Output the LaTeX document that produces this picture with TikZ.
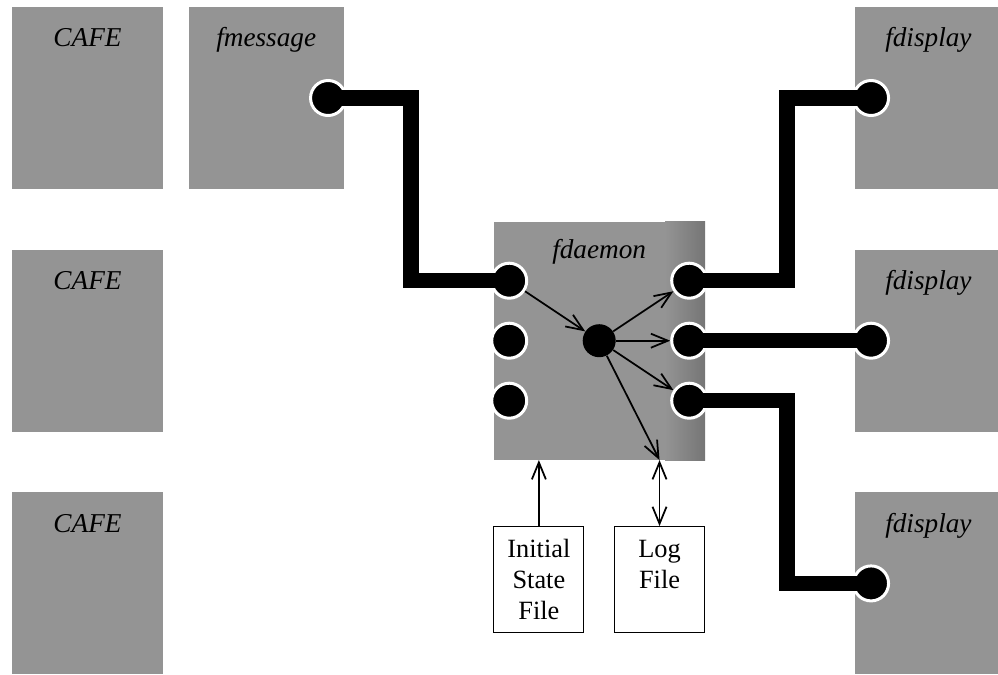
\documentclass[tikz,border=0pt]{standalone}
\usepackage{fontspec}
\setmainfont{Liberation Serif}
\usepackage{tikz}
\usetikzlibrary{arrows.meta, positioning, calc}

\begin{document}
\begin{tikzpicture}[
  proc/.style = {fill=black!42, minimum width=3.02cm, minimum height=3.64cm, inner sep=0pt},
  title/.style = {font=\fontsize{15.5}{18}\selectfont\itshape, inner sep=0pt},
  port/.style = {circle, fill=black, draw=white, line width=0.06cm, minimum size=0.7cm, inner sep=0pt},
  hub/.style = {circle, fill=black, minimum size=0.66cm, inner sep=0pt},
  wire/.style = {line width=0.31cm, line join=miter},
  flow/.style = {line width=1pt, >={Straight Barb[length=3.4mm, width=2.8mm]}, ->},
  file/.style = {draw, line width=0.6pt, fill=white, minimum width=1.8cm, minimum height=2.12cm, align=center, font=\fontsize{15}{17.6}\selectfont}
  ]

\useasboundingbox (0,0) rectangle (19.96,-13.5);

% Left column
\node[proc] (cafe1) at (1.75,-1.96) {};
\node[proc, below=1.2cm of cafe1] (cafe2) {};
\node[proc, below=1.2cm of cafe2] (cafe3) {};
\node[proc, minimum width=3.1cm, right=0.5cm of cafe1] (fmsg) {};

% Daemon
\node[proc, minimum width=4.22cm, minimum height=4.76cm, right=6.6cm of cafe2] (daemon) {};
\shade[left color=black!42, right color=black!54] ([xshift=-0.8cm]daemon.north east) rectangle (daemon.south east);

% Right column
\node[proc, minimum width=2.92cm, right=3cm of daemon] (disp2) {};
\node[proc, minimum width=2.92cm, above=1.2cm of disp2] (disp1) {};
\node[proc, minimum width=2.92cm, below=1.2cm of disp2] (disp3) {};

% Titles
\node[title, anchor=base] (cafe1-t) at ([yshift=-0.8cm]cafe1.north) {CAFE};
\node[title, anchor=base] (cafe2-t) at ([yshift=-0.8cm]cafe2.north) {CAFE};
\node[title, anchor=base] (cafe3-t) at ([yshift=-0.8cm]cafe3.north) {CAFE};
\node[title, anchor=base] (fmsg-t) at ([yshift=-0.8cm]fmsg.north) {fmessage};
\node[title, anchor=base] (daemon-t) at ([yshift=-0.74cm]daemon.north) {fdaemon};
\node[title, anchor=base] (disp1-t) at ([yshift=-0.8cm]disp1.north) {fdisplay};
\node[title, anchor=base] (disp2-t) at ([yshift=-0.8cm]disp2.north) {fdisplay};
\node[title, anchor=base] (disp3-t) at ([yshift=-0.8cm]disp3.north) {fdisplay};

% Ports
\node[port] (mport) at ([xshift=-0.32cm]fmsg.east) {};
\node[port] (in1) at ([shift={(-1.8cm,1.2cm)}]daemon.center) {};
\node[port] (in2) at ([xshift=-1.8cm]daemon.center) {};
\node[port] (in3) at ([shift={(-1.8cm,-1.2cm)}]daemon.center) {};
\node[port] (out1) at ([shift={(1.8cm,1.2cm)}]daemon.center) {};
\node[port] (out2) at ([xshift=1.8cm]daemon.center) {};
\node[port] (out3) at ([shift={(1.8cm,-1.2cm)}]daemon.center) {};
\node[hub] (hub) at (daemon.center) {};
\node[port] (dport1) at ([xshift=0.32cm]disp1.west) {};
\node[port] (dport2) at ([xshift=0.32cm]disp2.west) {};
\node[port] (dport3) at ([xshift=0.32cm]disp3.west) {};

% Wires
\draw[wire] (mport.center) -- ++(1.66,0) |- (in1.center);
\draw[wire] (out1.center) -- ++(1.96,0) |- (dport1.center);
\draw[wire] (out2.center) -- (dport2.center);
\draw[wire] (out3.center) -- ++(1.96,0) |- (dport3.center);

% Files
\node[file, below right=1.32cm and 0cm of daemon.south west] (init) {Initial\\State\\File};
\node[file, below left=1.32cm and 0cm of daemon.south east] (log) {Log\\File\\~};

% Arrows
\coordinate (inittop) at (init.north |- daemon.south);
\coordinate (logtop) at (log.north |- daemon.south);
\draw[flow] (in1) -- (hub);
\draw[flow] (hub) -- (out1);
\draw[flow] (hub) -- (out2);
\draw[flow] (hub) -- (out3);
\draw[flow] (hub) -- (logtop);
\draw[flow] (init) -- (inittop);
\draw[flow, <->] (log) -- (logtop);
\end{tikzpicture}
\end{document}
